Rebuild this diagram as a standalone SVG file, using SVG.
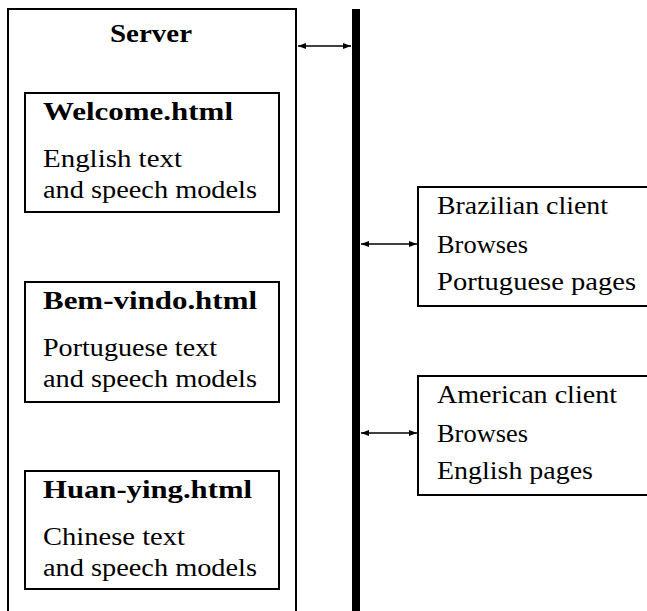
<svg xmlns="http://www.w3.org/2000/svg" width="647" height="611" viewBox="0 0 647 611">
  <defs>
    <marker id="tip" viewBox="0 0 8 8" refX="8" refY="4" markerWidth="8" markerHeight="8" markerUnits="userSpaceOnUse" orient="auto-start-reverse">
      <path d="M0,1 L8,4 L0,7 Z" fill="#000"/>
    </marker>
    <style>
      .box { fill: #fff; stroke: #000; stroke-width: 2; }
      .link { stroke: #000; stroke-width: 1.6; fill: none; marker-start: url(#tip); marker-end: url(#tip); }
      .t { font-family: "Liberation Serif", "DejaVu Serif", serif; font-size: 26px; fill: #000; }
      .b { font-weight: bold; }
    </style>
  </defs>
  <rect width="647" height="611" fill="#fff"/>

  <!-- server enclosure -->
  <g id="server">
    <path class="box" d="M8,620 L8,9 L296,9 L296,620"/>
    <text class="t b" x="151" y="42" text-anchor="middle" textLength="82" lengthAdjust="spacingAndGlyphs">Server</text>
  </g>

  <!-- network bus -->
  <g id="bus">
    <rect x="352" y="9" width="8" height="602" fill="#000"/>
  </g>

  <g id="welcome">
    <rect class="box" x="25" y="93" width="254" height="119"/>
    <text class="t b" x="43" y="120" textLength="190" lengthAdjust="spacingAndGlyphs">Welcome.html</text>
    <text class="t" x="43" y="167" textLength="139" lengthAdjust="spacingAndGlyphs">English text</text>
    <text class="t" x="43" y="198" textLength="214" lengthAdjust="spacingAndGlyphs">and speech models</text>
  </g>

  <g id="bem-vindo">
    <rect class="box" x="25" y="282" width="254" height="120"/>
    <text class="t b" x="43" y="309" textLength="214" lengthAdjust="spacingAndGlyphs">Bem-vindo.html</text>
    <text class="t" x="43" y="356" textLength="174" lengthAdjust="spacingAndGlyphs">Portuguese text</text>
    <text class="t" x="43" y="387" textLength="214" lengthAdjust="spacingAndGlyphs">and speech models</text>
  </g>

  <g id="huan-ying">
    <rect class="box" x="25" y="471" width="254" height="118"/>
    <text class="t b" x="43" y="498" textLength="209" lengthAdjust="spacingAndGlyphs">Huan-ying.html</text>
    <text class="t" x="43" y="545" textLength="142" lengthAdjust="spacingAndGlyphs">Chinese text</text>
    <text class="t" x="43" y="576" textLength="214" lengthAdjust="spacingAndGlyphs">and speech models</text>
  </g>

  <g id="brazilian-client">
    <rect class="box" x="418" y="187" width="240" height="119"/>
    <text class="t" x="437" y="214" textLength="171" lengthAdjust="spacingAndGlyphs">Brazilian client</text>
    <text class="t" x="437" y="253" textLength="91" lengthAdjust="spacingAndGlyphs">Browses</text>
    <text class="t" x="437" y="290" textLength="199" lengthAdjust="spacingAndGlyphs">Portuguese pages</text>
  </g>

  <g id="american-client">
    <rect class="box" x="418" y="376" width="240" height="119"/>
    <text class="t" x="437" y="403" textLength="180" lengthAdjust="spacingAndGlyphs">American client</text>
    <text class="t" x="437" y="442" textLength="91" lengthAdjust="spacingAndGlyphs">Browses</text>
    <text class="t" x="437" y="479" textLength="156" lengthAdjust="spacingAndGlyphs">English pages</text>
  </g>

  <!-- connectors -->
  <g id="connectors">
    <line class="link" x1="298" y1="46" x2="351" y2="46"/>
    <line class="link" x1="361" y1="244" x2="417" y2="244"/>
    <line class="link" x1="361" y1="433" x2="417" y2="433"/>
  </g>
</svg>
